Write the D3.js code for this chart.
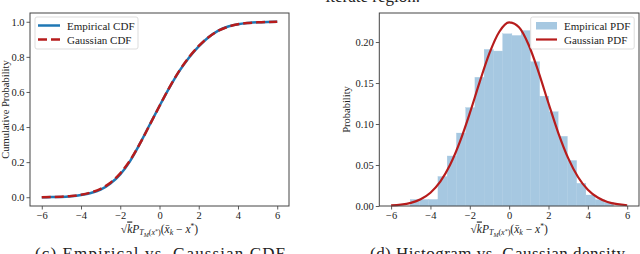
<!DOCTYPE html>
<html>
<head>
<meta charset="utf-8">
<script src="https://cdn.jsdelivr.net/npm/d3@7"></script>
<style>
  body { margin: 0; background: #fff; }
  svg { display: block; font-family: "Liberation Serif", "DejaVu Serif", serif; }
</style>
</head>
<body>
<svg width="640" height="254"></svg>
<script>
// grid of x values the curves were read at
const gridX = [-6, -5.5, -5, -4.5, -4, -3.5, -3, -2.5, -2, -1.5, -1, -0.5, 0, 0.5, 1, 1.5, 2, 2.5, 3, 3.5, 4, 4.5, 5, 5.5, 6];

// left panel: cdf curves
const empiricalCdf = [0.000, 0.001, 0.002, 0.006, 0.013, 0.024, 0.043, 0.078, 0.130, 0.206, 0.305, 0.413, 0.520, 0.623, 0.717, 0.795, 0.860, 0.912, 0.950, 0.973, 0.986, 0.993, 0.997, 0.999, 1.000];
const gaussianCdf = [0.0005, 0.0013, 0.003, 0.007, 0.014, 0.027, 0.048, 0.083, 0.136, 0.210, 0.305, 0.412, 0.520, 0.625, 0.719, 0.798, 0.862, 0.912, 0.949, 0.972, 0.986, 0.993, 0.997, 0.999, 0.9997];

// right panel: histogram (bin edges + density) and gaussian pdf
const binEdges = [-5.03, -4.56, -4.09, -3.62, -3.15, -2.68, -2.21, -1.74, -1.27, -0.80, -0.33, 0.14, 0.61, 1.08, 1.55, 2.02, 2.49, 2.96, 3.43, 3.90, 4.37, 4.84, 5.31];
const binDensity = [0.008, 0.008, 0.008, 0.036, 0.061, 0.089, 0.120, 0.157, 0.191, 0.189, 0.210, 0.208, 0.214, 0.176, 0.134, 0.115, 0.085, 0.0555, 0.0277, 0.0134, 0.0077, 0.0043];
const gaussianPdf = [0.0007, 0.0016, 0.0038, 0.0082, 0.0162, 0.0296, 0.0502, 0.0784, 0.1132, 0.1511, 0.1864, 0.2125, 0.2239, 0.2180, 0.1961, 0.1630, 0.1253, 0.0890, 0.0584, 0.0354, 0.0198, 0.0103, 0.0049, 0.0022, 0.0009];

// ticks
const xTicks = [-6, -4, -2, 0, 2, 4, 6];
const cdfTicks = [0, 0.2, 0.4, 0.6, 0.8, 1.0];
const pdfTicks = [0, 0.05, 0.10, 0.15, 0.20];

const blue = "#1f77b4";
const red = "#b71c1c";
const histFill = "#a6c8e1";

const svg = d3.select("svg");

// draws ticks, labels for one panel
function makePanel(left, right, top, bottom, yDomain, yTicks, yFmt, yLabel, yLabelX) {
  const x = d3.scaleLinear().domain([-6.6, 6.6]).range([left, right]);
  const y = d3.scaleLinear().domain(yDomain).range([bottom, top]);
  const g = svg.append("g");

  const xAxis = d3.axisBottom(x).tickValues(xTicks).tickSize(3.5).tickPadding(2)
    .tickFormat(d => d < 0 ? "\u2212" + Math.abs(d) : d);
  g.append("g").attr("transform", `translate(0,${bottom})`).call(xAxis);

  const yAxis = d3.axisLeft(y).tickValues(yTicks).tickSize(3.5).tickPadding(2).tickFormat(yFmt);
  g.append("g").attr("transform", `translate(${left},0)`).call(yAxis);

  g.selectAll(".domain").remove();
  g.selectAll(".tick line").attr("stroke", "#333").attr("stroke-width", 0.8);
  g.selectAll(".tick text").attr("font-size", 10.5).attr("fill", "#222")
    .attr("font-family", "Liberation Serif");

  g.append("text")
    .attr("transform", `translate(${yLabelX},${(top + bottom) / 2}) rotate(-90)`)
    .attr("text-anchor", "middle")
    .attr("font-size", 10.5)
    .attr("fill", "#222")
    .text(yLabel);

  xLabel(g, (left + right) / 2, 232.5);

  return { x, y, g, frame: [left, right, top, bottom] };
}

function drawFrame(p) {
  const [l, r, t, b] = p.frame;
  svg.append("rect")
    .attr("x", l).attr("y", t).attr("width", r - l).attr("height", b - t)
    .attr("fill", "none").attr("stroke", "#444").attr("stroke-width", 1);
}

// sqrt(k) P_{T_M(x*)}(x̄_k − x*)
function xLabel(g, cx, cy) {
  const parts = [
    ["\u221A", {}],
    ["k", { it: true, over: true }],
    ["P", { it: true }],
    ["T", { it: true, size: 8, dy: 2.5 }],
    ["M", { it: true, size: 6, dy: 1.5 }],
    ["(", { size: 8, dy: -1.5 }],
    ["x", { it: true, size: 8 }],
    ["*", { size: 6, dy: -2 }],
    [")", { size: 8, dy: 2 }],
    ["(", { dy: -2.5 }],
    ["x\u0304", { it: true }],
    ["k", { it: true, size: 8, dy: 2.5 }],
    [" \u2212 ", { dy: -2.5 }],
    ["x", { it: true }],
    ["*", { size: 7.5, dy: -3.5 }],
    [")", { dy: 3.5 }]
  ];
  const t = g.append("text")
    .attr("x", cx).attr("y", cy)
    .attr("text-anchor", "middle")
    .attr("font-size", 11.5)
    .attr("fill", "#222");
  parts.forEach(([s, o]) => {
    const ts = t.append("tspan").text(s);
    if (o.it) ts.attr("font-style", "italic");
    if (o.size) ts.attr("font-size", o.size);
    if (o.dy) ts.attr("dy", o.dy);
    if (o.over) ts.attr("text-decoration", "overline");
  });
}

// ---- left panel: CDF ----
const L = makePanel(30, 289, 13, 206, [-0.05, 1.05], cdfTicks, d3.format(".1f"), "Cumulative Probability", 8.5);

const cdfLine = (vals) => d3.line()
  .x((d, i) => L.x(gridX[i]))
  .y(d => L.y(d))
  .curve(d3.curveMonotoneX)(vals);

svg.append("path")
  .attr("d", cdfLine(empiricalCdf))
  .attr("fill", "none").attr("stroke", blue).attr("stroke-width", 2.5);

svg.append("path")
  .attr("d", cdfLine(gaussianCdf))
  .attr("fill", "none").attr("stroke", red).attr("stroke-width", 2.5)
  .attr("stroke-dasharray", "9,4");

drawFrame(L);

// legend left
const lg1 = svg.append("g");
lg1.append("rect").attr("x", 35).attr("y", 17).attr("width", 103).attr("height", 32).attr("rx", 2)
  .attr("fill", "#fff").attr("fill-opacity", 0.8).attr("stroke", "#ddd");
lg1.append("line").attr("x1", 38).attr("x2", 60).attr("y1", 25.5).attr("y2", 25.5)
  .attr("stroke", blue).attr("stroke-width", 2.5);
lg1.append("line").attr("x1", 38).attr("x2", 60).attr("y1", 39.5).attr("y2", 39.5)
  .attr("stroke", red).attr("stroke-width", 2.5).attr("stroke-dasharray", "9,4");
lg1.append("text").attr("x", 67).attr("y", 29.5).attr("font-size", 11).attr("fill", "#222").text("Empirical CDF");
lg1.append("text").attr("x", 67).attr("y", 43.5).attr("font-size", 11).attr("fill", "#222").text("Gaussian CDF");

// ---- right panel: histogram ----
const R = makePanel(379.3, 639, 13, 206, [0, 0.2354], pdfTicks, d3.format(".2f"), "Probability", 350);

svg.append("g").selectAll("rect")
  .data(binDensity)
  .join("rect")
  .attr("x", (d, i) => R.x(binEdges[i]))
  .attr("width", (d, i) => R.x(binEdges[i + 1]) - R.x(binEdges[i]))
  .attr("y", d => R.y(d))
  .attr("height", d => R.y(0) - R.y(d))
  .attr("fill", histFill)
  .attr("stroke", histFill).attr("stroke-width", 0.3);

svg.append("path")
  .attr("d", d3.line()
    .x((d, i) => R.x(gridX[i]))
    .y(d => R.y(d))
    .curve(d3.curveMonotoneX)(gaussianPdf))
  .attr("fill", "none").attr("stroke", red).attr("stroke-width", 2.2);

drawFrame(R);

// legend right
const lg2 = svg.append("g");
lg2.append("rect").attr("x", 530.7).attr("y", 17).attr("width", 103.5).attr("height", 32).attr("rx", 2)
  .attr("fill", "#fff").attr("fill-opacity", 0.8).attr("stroke", "#ddd");
lg2.append("rect").attr("x", 536).attr("y", 22).attr("width", 21).attr("height", 7.5).attr("fill", histFill);
lg2.append("line").attr("x1", 536).attr("x2", 557).attr("y1", 39.5).attr("y2", 39.5)
  .attr("stroke", red).attr("stroke-width", 2.2);
lg2.append("text").attr("x", 564).attr("y", 29.5).attr("font-size", 11).attr("fill", "#222").text("Empirical PDF");
lg2.append("text").attr("x", 564).attr("y", 43.5).attr("font-size", 11).attr("fill", "#222").text("Gaussian PDF");

// cropped surrounding text of the page
svg.append("text").attr("x", 420).attr("y", 1.5).attr("text-anchor", "end")
  .attr("font-size", 17).attr("fill", "#222").text("iterate region.");
svg.append("text").attr("x", 35).attr("y", 258.5).attr("font-size", 17).attr("fill", "#222")
  .attr("textLength", 250).attr("lengthAdjust", "spacing")
  .text("(c) Empirical vs. Gaussian CDF");
svg.append("text").attr("x", 370).attr("y", 258.5).attr("font-size", 17).attr("fill", "#222")
  .attr("textLength", 255).attr("lengthAdjust", "spacing")
  .text("(d) Histogram vs. Gaussian density");
</script>
</body>
</html>
